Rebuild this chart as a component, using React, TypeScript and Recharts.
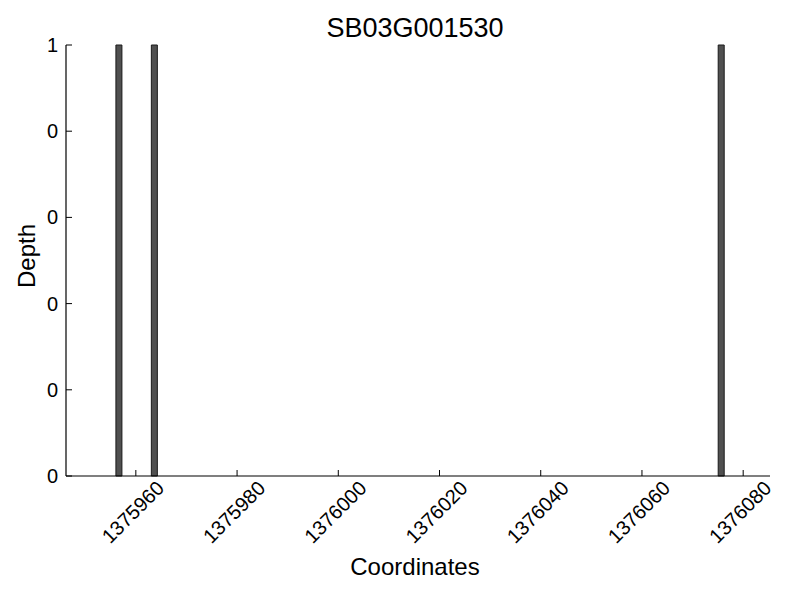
import React from "react";
import { ComposedChart, Bar, XAxis, YAxis } from "recharts";

const coordinates = [1375956.6, 1375963.6, 1376075.6];
const depthValues = [1, 1, 1];
const xTickValues = [1375960, 1375980, 1376000, 1376020, 1376040, 1376060, 1376080];
const yTickValues = [0, 0.2, 0.4, 0.6, 0.8, 1];
const yTickLabels = ["0", "0", "0", "0", "0", "1"];
const chartTitle = "SB03G001530";

const data = coordinates.map((c, i) => ({ coord: c, depth: depthValues[i] }));

const FONT = "'Liberation Sans', Arial, Helvetica, sans-serif";

const XTick = (props: any) => {
  const { x, y, payload } = props;
  return (
    <g>
      <line x1={x} x2={x} y1={y} y2={y - 6} stroke="#000" strokeWidth={1} />
      <text
        x={x - 3}
        y={y + 36}
        transform={`rotate(-45, ${x - 3}, ${y + 36})`}
        textAnchor="middle"
        dominantBaseline="central"
        fontSize={20}
        fontFamily={FONT}
        fill="#000"
      >
        {payload.value}
      </text>
    </g>
  );
};

const YTick = (props: any) => {
  const { x, y, payload, index } = props;
  const idx = yTickValues.indexOf(payload.value);
  const label = idx >= 0 ? yTickLabels[idx] : yTickLabels[index];
  return (
    <g>
      <line x1={x} x2={x + 6} y1={y} y2={y} stroke="#000" strokeWidth={1} />
      <text
        x={x - 8}
        y={y}
        textAnchor="end"
        dominantBaseline="central"
        fontSize={20}
        fontFamily={FONT}
        fill="#000"
      >
        {label}
      </text>
    </g>
  );
};

export default function App() {
  return (
    <div style={{ position: "relative", width: 784, height: 584 }}>
      <ComposedChart
        width={784}
        height={584}
        data={data}
        margin={{ top: 37, right: 22, bottom: 36, left: 0 }}
      >
        <XAxis
          dataKey="coord"
          type="number"
          domain={[1375946.2, 1376085.3]}
          ticks={xTickValues}
          allowDataOverflow
          tickSize={0}
          tickMargin={0}
          tickLine={false}
          tick={<XTick />}
          height={80}
          axisLine={{ stroke: "#000", strokeWidth: 1.2 }}
        />
        <YAxis
          type="number"
          domain={[0, 1]}
          ticks={yTickValues}
          width={58}
          tickSize={0}
          tickMargin={0}
          tickLine={false}
          tick={<YTick />}
          axisLine={{ stroke: "#000", strokeWidth: 1.2 }}
        />
        <Bar
          dataKey="depth"
          barSize={6}
          fill="#505050"
          stroke="#1a1a1a"
          strokeWidth={1}
          isAnimationActive={false}
        />
      </ComposedChart>
      <div
        style={{
          position: "absolute",
          left: 0,
          top: 5,
          width: 784,
          textAlign: "center",
          paddingLeft: 30,
          boxSizing: "border-box",
          fontFamily: FONT,
          fontSize: 27,
          color: "#000",
          lineHeight: "30px",
        }}
      >
        {chartTitle}
      </div>
      <div
        style={{
          position: "absolute",
          left: 0,
          top: 545,
          width: 784,
          textAlign: "center",
          paddingLeft: 30,
          boxSizing: "border-box",
          fontFamily: FONT,
          fontSize: 24,
          color: "#000",
          lineHeight: "28px",
        }}
      >
        Coordinates
      </div>
      <div
        style={{
          position: "absolute",
          left: 19,
          top: 248,
          transform: "translate(-50%, -50%) rotate(-90deg)",
          fontFamily: FONT,
          fontSize: 24,
          color: "#000",
          whiteSpace: "nowrap",
          lineHeight: "28px",
        }}
      >
        Depth
      </div>
    </div>
  );
}
